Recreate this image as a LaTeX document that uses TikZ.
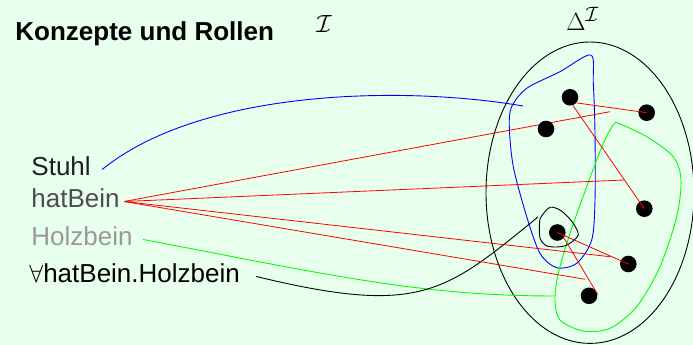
\documentclass[tikz,border=0pt]{standalone}
\usepackage{fontspec}
\setsansfont{Liberation Sans}
\definecolor{bg}{RGB}{232,255,238}
\definecolor{rolegray}{RGB}{77,77,77}
\definecolor{woodgray}{RGB}{153,153,153}
\begin{document}
\begin{tikzpicture}[x=1pt,y=1pt,line width=0.9pt,
  lbl/.style={anchor=base west,inner xsep=4pt,inner ysep=0pt,
    text height=19.5pt,text depth=6.5pt,font=\sffamily\fontsize{26}{30}\selectfont},
  mathlbl/.style={inner sep=0pt,font=\fontsize{24.88}{28}\selectfont},
  elem/.style={circle,fill=black,inner sep=0pt,minimum size=16.6pt},
  role/.style={red,line width=0.8pt}]
  \useasboundingbox[fill=bg] (0,0) rectangle (693,345);
  % titles
  \node[anchor=base west,inner sep=0pt,font=\sffamily\bfseries\fontsize{26}{30}\selectfont] (title) at (15,304) {Konzepte und Rollen};
  \node[mathlbl,anchor=base] (interp) at (324,312) {$\mathcal{I}$};
  \node[mathlbl,anchor=base west] (domain) at (566,314) {$\Delta^{\mathcal{I}}$};
  % names
  \node[lbl,text=black!88] (stuhl) at (27,169) {Stuhl};
  \node[lbl,text=rolegray] (hatbein) at (27,137) {hatBein};
  \node[lbl,text=woodgray] (holzbein) at (27,99) {Holzbein};
  \node[lbl] (allhb) at (25,62) {$\forall$hatBein.Holzbein};
  % domain
  \draw (590,152.3) ellipse [x radius=104, y radius=150.7];
  \draw[blue] plot[smooth cycle] coordinates {(590.7,290) (560,273.3) (526.7,256.7) (511.7,238.3) (509.3,218.3) (513.3,178.3) (526.7,128.3) (540,91.7) (556.7,77.3) (576.7,81.7) (591.7,105) (595,145) (595,212) (593.3,262)};
  \draw[green] plot[smooth cycle] coordinates {(614,221) (603.3,201.7) (586.7,158.3) (570,111.7) (558.3,71.7) (555,45) (560,25) (583.3,14) (610,16.7) (636.7,38.3) (660,78.3) (676.7,128.3) (681,165) (673.3,188.3) (646.7,208.3) (620,221)};
  \draw plot[smooth cycle] coordinates {(550,137.7) (541,128) (539.5,121.7) (540,107) (546,99.5) (556,98) (567,100) (578.3,110) (572,123.3) (561,134.3)};
  % concept mappings
  \coordinate (stuhlend) at (523,239);
  \coordinate (holzend) at (555,49);
  \coordinate (allend) at (538,128);
  \draw[blue] ([xshift=7pt]stuhl.east) .. controls (200,255) and (400,260) .. (stuhlend);
  \draw[green] ([xshift=6pt]holzbein.east) .. controls (330,70) and (420,49) .. (holzend);
  \draw ([xshift=12pt]allhb.east) .. controls (421,28.6) and (445,52.5) .. (allend);
  % role mappings
  \coordinate (r1) at (610,233.3);
  \coordinate (r2) at (624,165);
  \coordinate (r3) at (610,88.3);
  \coordinate (r4) at (585,65.7);
  \foreach \r in {r1,r2,r3,r4}
    \draw[role] (hatbein.east) -- (\r);
  % elements
  \foreach \n/\x/\y in {d1/570/247.7, d2/646.7/232.3, d3/546/216, d4/644.3/136.3,
      d5/557.3/112.5, d6/628.3/81, d7/589/49.2}
    \node[elem] (\n) at (\x,\y) {};
  \draw[role] (d1.-40) -- (d2.center);
  \draw[role] (d1.-70) -- (d4.center);
  \draw[role] (d5.center) -- (d6.center);
  \draw[role] (d5.-40) -- (d7.10);
\end{tikzpicture}
\end{document}
